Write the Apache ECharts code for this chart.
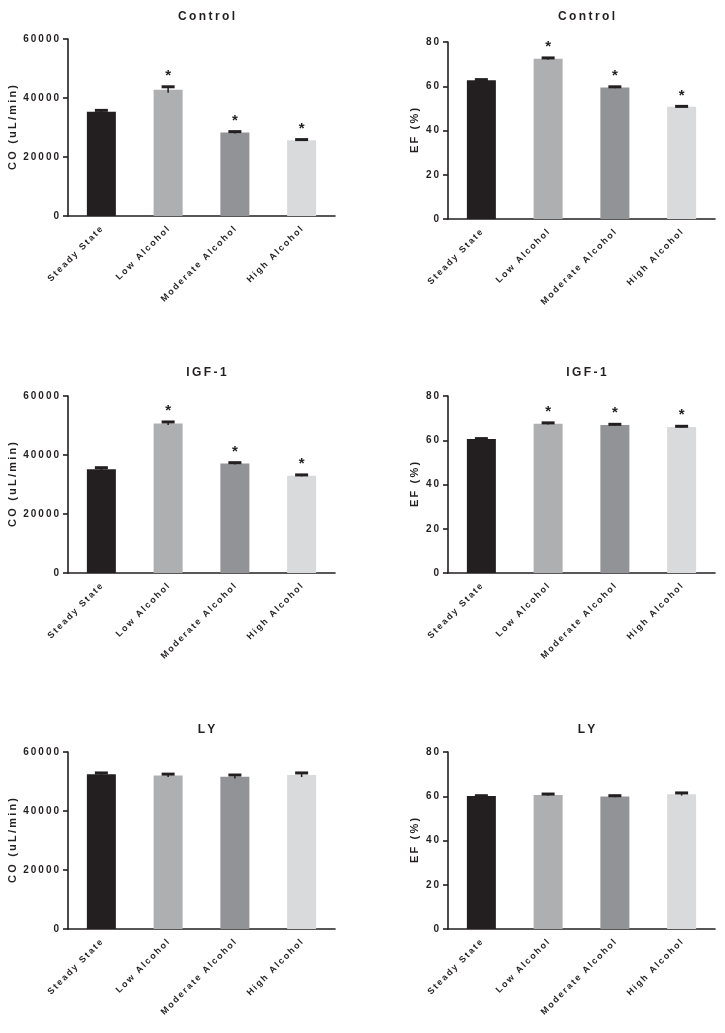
<!DOCTYPE html>
<html><head><meta charset="utf-8">
<script src="https://cdn.jsdelivr.net/npm/echarts@6/dist/echarts.min.js"></script>
<style>html,body{margin:0;padding:0;background:#fff}#c{width:725px;height:1033px}</style>
</head><body><div id="c"></div>
<script>
const categories = ['Steady State', 'Low Alcohol', 'Moderate Alcohol', 'High Alcohol'];
const panelTitles = ['Control', 'Control', 'IGF-1', 'IGF-1', 'LY', 'LY'];
const yNames = ['CO (uL/min)', 'EF (%)', 'CO (uL/min)', 'EF (%)', 'CO (uL/min)', 'EF (%)'];
const coTicks = [0, 20000, 40000, 60000];
const efTicks = [0, 20, 40, 60, 80];

const coControl = [35300, 42800, 28300, 25700];
const coControlErr = [500, 1000, 300, 200];
const coControlSig = [0, 1, 1, 1];
const efControl = [62.7, 72.4, 59.4, 50.7];
const efControlErr = [0.3, 0.4, 0.35, 0.2];
const efControlSig = [0, 1, 1, 1];

const coIGF = [35200, 50700, 37100, 33000];
const coIGFErr = [500, 500, 300, 250];
const coIGFSig = [0, 1, 1, 1];
const efIGF = [60.6, 67.5, 66.9, 66.0];
const efIGFErr = [0.15, 0.35, 0.3, 0.3];
const efIGFSig = [0, 1, 1, 1];

const coLY = [52500, 52000, 51600, 52200];
const coLYErr = [400, 500, 600, 700];
const coLYSig = [0, 0, 0, 0];
const efLY = [60.1, 60.6, 59.9, 60.9];
const efLYErr = [0.15, 0.4, 0.35, 0.6];
const efLYSig = [0, 0, 0, 0];

const barColors = ['#231f20', '#aeafb1', '#929396', '#d9dadb'];
const ink = '#231f20';
const FONT = 'Liberation Sans, Arial, sans-serif';
const sp = s => String(s).split('').join('\u2009');

const panels = [
  {vals: coControl, err: coControlErr, sig: coControlSig, ticks: coTicks},
  {vals: efControl, err: efControlErr, sig: efControlSig, ticks: efTicks},
  {vals: coIGF, err: coIGFErr, sig: coIGFSig, ticks: coTicks},
  {vals: efIGF, err: efIGFErr, sig: efIGFSig, ticks: efTicks},
  {vals: coLY, err: coLYErr, sig: coLYSig, ticks: coTicks},
  {vals: efLY, err: efLYErr, sig: efLYSig, ticks: efTicks}
];
const gridPos = [
  {left: 68, top: 39}, {left: 448, top: 42},
  {left: 68, top: 396}, {left: 448, top: 396},
  {left: 68, top: 752}, {left: 448, top: 752}
];
const titleTops = [6, 6, 362, 362, 719, 719];

const option = {
  animation: false,
  backgroundColor: '#fff',
  title: [], grid: [], xAxis: [], yAxis: [], series: []
};

panels.forEach((p, k) => {
  const g = gridPos[k];
  option.grid.push({left: g.left, top: g.top, width: 267, height: 177, containLabel: false});
  option.title.push({
    text: sp(panelTitles[k]), left: g.left + 133.5, top: titleTops[k], textAlign: 'center',
    textStyle: {fontFamily: FONT, fontSize: 12, fontWeight: 'bold', color: ink}
  });
  option.xAxis.push({
    type: 'category', gridIndex: k, data: categories,
    axisLine: {lineStyle: {color: ink, width: 1.6}},
    axisTick: {alignWithLabel: true, length: 4, lineStyle: {color: ink, width: 1.6}},
    axisLabel: {rotate: 45, margin: 12, interval: 0, fontFamily: FONT, fontSize: 9, fontWeight: 'bold', color: ink,
      formatter: v => sp(v)}
  });
  const tk = p.ticks;
  option.yAxis.push({
    type: 'value', gridIndex: k, min: tk[0], max: tk[tk.length - 1], interval: tk[1] - tk[0],
    name: sp(yNames[k]), nameLocation: 'middle', nameGap: k % 2 === 0 ? 50 : 28,
    nameTextStyle: {fontFamily: FONT, fontSize: 11, fontWeight: 'bold', color: ink},
    axisLine: {show: true, lineStyle: {color: ink, width: 1.6}},
    axisTick: {show: true, length: 5, lineStyle: {color: ink, width: 1.6}},
    splitLine: {show: false},
    axisLabel: {margin: 9, fontFamily: FONT, fontSize: 10, fontWeight: 'bold', color: ink, formatter: v => sp(v)}
  });
  option.series.push({
    type: 'bar', xAxisIndex: k, yAxisIndex: k, barWidth: 29,
    data: p.vals.map((v, i) => ({value: v, itemStyle: {color: barColors[i]}}))
  });
  option.series.push({
    type: 'custom', xAxisIndex: k, yAxisIndex: k, z: 5,
    data: p.vals.map((v, i) => [i, v, p.err[i], p.sig[i]]),
    renderItem: (params, api) => {
      const i = api.value(0), v = api.value(1), e = api.value(2), s = api.value(3);
      const top = api.coord([i, v + e]);
      const low = api.coord([i, v - e]);
      const children = [
        {type: 'line', shape: {x1: top[0], y1: low[1], x2: top[0], y2: top[1]},
          style: {stroke: ink, lineWidth: 1.5}},
        {type: 'rect', shape: {x: top[0] - 6.5, y: top[1] - 1.5, width: 13, height: 3},
          style: {fill: ink}}
      ];
      if (s) {
        children.push({type: 'text', x: top[0], y: top[1] - 11,
          style: {text: '*', fill: ink, font: 'bold 15px ' + FONT, textAlign: 'center', textVerticalAlign: 'middle'}});
      }
      return {type: 'group', children};
    }
  });
});

const chart = echarts.init(document.getElementById('c'), null, {renderer: 'canvas'});
chart.setOption(option);
</script></body></html>
